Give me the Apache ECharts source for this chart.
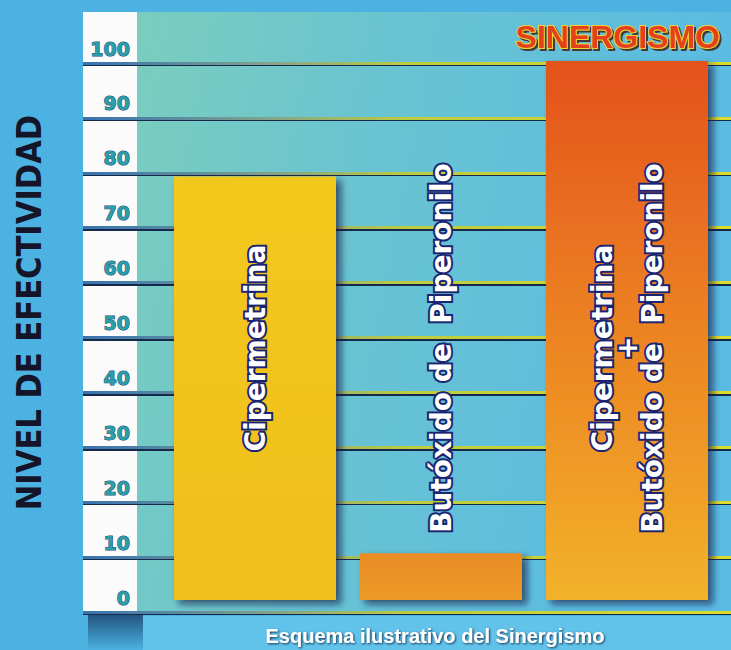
<!DOCTYPE html>
<html>
<head>
<meta charset="utf-8">
<script src="https://cdn.jsdelivr.net/npm/echarts@6/dist/echarts.min.js"></script>
<style>
html,body{margin:0;padding:0;background:#4bb2e2;}
#c{width:731px;height:650px;}
</style>
</head>
<body>
<div id="c"></div>
<script>
// ---- data ----
const categories = ['Cipermetrina', 'Butóxido de  Piperonilo', 'Cipermetrina\n+\nButóxido de  Piperonilo'];
const efectividad = [77, 8.5, 98];
const yTicks = [0, 10, 20, 30, 40, 50, 60, 70, 80, 90, 100];
const yAxisTitle = 'NIVEL DE EFECTIVIDAD';
const chartTitle = 'SINERGISMO';
const caption = 'Esquema ilustrativo del Sinergismo';

// ---- styles ----
const barColors = [
  new echarts.graphic.LinearGradient(0, 0, 0, 1, [{offset: 0, color: '#f3c81f'}, {offset: 1, color: '#efbf1c'}]),
  new echarts.graphic.LinearGradient(0, 0, 0, 1, [{offset: 0, color: '#e98c24'}, {offset: 1, color: '#ec9a28'}]),
  new echarts.graphic.LinearGradient(0, 0, 0, 1, [{offset: 0, color: '#e4521d'}, {offset: 0.5, color: '#ec8322'}, {offset: 1, color: '#f2b22a'}])
];
const gridLineColor = new echarts.graphic.LinearGradient(83, 0, 731, 0, [
  {offset: 0, color: '#3a72b0'}, {offset: 0.08, color: '#4a80a8'}, {offset: 0.3, color: '#86a688'},
  {offset: 0.5, color: '#bccc40'}, {offset: 1, color: '#dcdc2a'}
], true);

const chart = echarts.init(document.getElementById('c'), null, {renderer: 'svg', width: 731, height: 650});

const tickAxis = (gridIndex, z, lineStyle, showLabel) => ({
  type: 'value', gridIndex, min: 0, max: 100, interval: 10, z,
  axisLine: {show: false}, axisTick: {show: false},
  axisLabel: showLabel ? {inside: true, margin: 47, align: 'right', verticalAlign: 'bottom', padding: [0, 0, 5, 0],
      color: '#2a9ea6', fontSize: 19, fontWeight: 'bold', fontFamily: 'DejaVu Sans',
      textBorderColor: '#1f4a78', textBorderWidth: 1,
      formatter: v => String(yTicks[Math.round(v / 10)])} : {show: false},
  splitLine: {show: true, lineStyle}
});

const nameAxis = tickAxis(0, 2, {color: gridLineColor, width: 3}, true);
Object.assign(nameAxis, {
  name: yAxisTitle, nameLocation: 'middle', nameRotate: 90, nameGap: 37,
  nameTextStyle: {color: '#15152a', fontSize: 34, fontWeight: 'bold',
    fontFamily: '"DejaVu Sans Condensed", "Liberation Sans Narrow", sans-serif', padding: [0, 0, 0, 50]}
});

const option = {
  backgroundColor: '#4bb2e2',
  animation: false,
  title: [
    {
      text: chartTitle, right: 4, top: 16,
      textStyle: {color: '#e5401c', fontSize: 32, fontWeight: 'bold', fontFamily: 'Liberation Sans',
        textBorderColor: '#f0d236', textBorderWidth: 2,
        textShadowColor: 'rgba(60,20,10,0.8)', textShadowOffsetX: 2, textShadowOffsetY: 2, textShadowBlur: 1}
    },
    {
      text: caption, left: 430, top: 621, textAlign: 'center',
      textStyle: {color: '#ffffff', fontSize: 20, fontWeight: 'bold', fontFamily: 'Liberation Sans',
        textShadowColor: 'rgba(10,30,60,0.9)', textShadowOffsetX: 1, textShadowOffsetY: 1, textShadowBlur: 2}
    }
  ],
  graphic: [
    {type: 'rect', z: -10, shape: {x: 137, y: 12, width: 594, height: 600},
      style: {fill: new echarts.graphic.LinearGradient(0, 0, 1, 0.2, [
        {offset: 0, color: '#7acdbe'}, {offset: 0.45, color: '#68c3d2'}, {offset: 1, color: '#5bbbe2'}])}},
    {type: 'rect', z: -10, shape: {x: 83, y: 12, width: 54, height: 600}, style: {fill: '#fbfbfb'}},
    {type: 'rect', z: -10, shape: {x: 143, y: 616, width: 588, height: 34}, style: {fill: '#62c3ea'}},
    {type: 'rect', z: -10, shape: {x: 88, y: 614, width: 55, height: 36},
      style: {fill: new echarts.graphic.LinearGradient(0, 0, 0, 1, [
        {offset: 0, color: 'rgba(20,50,90,0.75)'}, {offset: 1, color: 'rgba(20,50,90,0.0)'}])}}
  ],
  grid: [
    {left: 83, right: 0, top: 63, bottom: 38, outerBoundsMode: 'none', containLabel: false},
    {left: 162, right: 11, top: 50, bottom: 50, outerBoundsMode: 'none', containLabel: false},
    {left: 83, right: 0, top: 65, bottom: 36, outerBoundsMode: 'none', containLabel: false}
  ],
  xAxis: [
    {type: 'value', gridIndex: 0, show: false, min: 0, max: 1},
    {type: 'category', gridIndex: 1, data: categories, z: 10,
      axisLine: {show: false}, axisTick: {show: false}, splitLine: {show: false},
      axisLabel: {interval: 0, inside: true, rotate: 90, align: 'center', verticalAlign: 'middle', margin: 252,
        color: '#ffffff', fontSize: 28, fontWeight: 'bold', fontFamily: 'DejaVu Sans', lineHeight: 25,
        textBorderColor: '#1a2472', textBorderWidth: 4}},
    {type: 'value', gridIndex: 2, show: false, min: 0, max: 1}
  ],
  yAxis: [
    nameAxis,
    {type: 'value', gridIndex: 1, min: 0, max: 100, show: false},
    tickAxis(2, 1, {color: '#17294a', width: 2}, false)
  ],
  series: [
    {type: 'bar', xAxisIndex: 1, yAxisIndex: 1, barWidth: 162, z: 3,
      data: efectividad.map((v, i) => ({value: v, itemStyle: {color: barColors[i]}})),
      itemStyle: {shadowColor: 'rgba(10,25,60,0.65)', shadowBlur: 7, shadowOffsetX: 5, shadowOffsetY: 4},
      label: {show: false}}
  ]
};
chart.setOption(option);
</script>
</body>
</html>
